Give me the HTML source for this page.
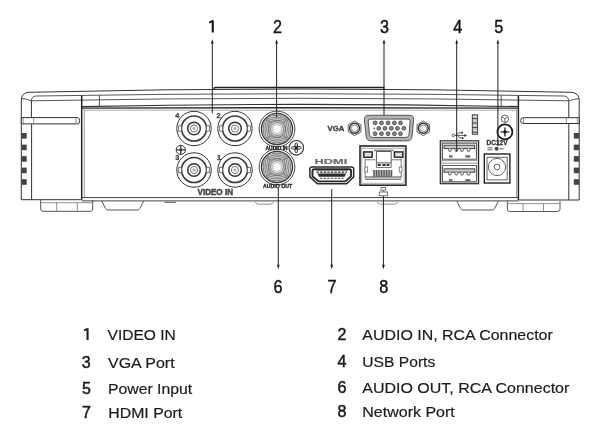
<!DOCTYPE html>
<html><head><meta charset="utf-8">
<style>
html,body{margin:0;padding:0;background:#fff;}
body{width:600px;height:431px;overflow:hidden;position:relative;font-family:"Liberation Sans",sans-serif;}
svg{position:absolute;left:0;top:0;will-change:transform;}
.num{font-family:"Liberation Sans",sans-serif;font-size:18px;fill:#151515;stroke:#151515;stroke-width:0.45px;}
.lst{font-family:"Liberation Sans",sans-serif;font-size:15px;fill:#1c1c1c;stroke:#1c1c1c;stroke-width:0.2px;}
.sm{font-family:"Liberation Sans",sans-serif;font-weight:bold;fill:#555;}
</style></head>
<body>
<svg width="600" height="431" viewBox="0 0 600 431">
<defs>
  <g id="bnc">
    <circle r="17.2" fill="none" stroke="#333" stroke-width="1"/>
    <circle r="12.5" fill="none" stroke="#3a3a3a" stroke-width="1.6"/>
    <rect x="-15.3" y="-2.7" width="2.9" height="5.4" fill="#fff" stroke="#555" stroke-width="0.8"/>
    <rect x="12.4" y="-2.7" width="2.9" height="5.4" fill="#fff" stroke="#555" stroke-width="0.8"/>
    <circle r="6.3" fill="none" stroke="#333" stroke-width="1.5"/>
    <circle r="3.6" fill="none" stroke="#666" stroke-width="0.9"/>
    <circle r="1.5" fill="#aaa"/>
  </g>
  <clipPath id="rcaclip"><circle r="15"/></clipPath>
  <g id="rca">
    <circle r="17.9" fill="#fff" stroke="#333" stroke-width="0.9"/>
    <circle r="15.6" fill="#c2c2c2" stroke="#3a3a3a" stroke-width="1.2"/>
    <g clip-path="url(#rcaclip)" fill="none" stroke="#6a6a6a" stroke-width="0.75">
      <circle cy="-25" r="12"/><circle cy="-25" r="14.3"/><circle cy="-25" r="16.6"/><circle cy="-25" r="18.9"/>
      <circle cy="25" r="12"/><circle cy="25" r="14.3"/><circle cy="25" r="16.6"/><circle cy="25" r="18.9"/>
      <circle cx="-25" r="12"/><circle cx="-25" r="14.3"/><circle cx="-25" r="16.6"/><circle cx="-25" r="18.9"/>
      <circle cx="25" r="12"/><circle cx="25" r="14.3"/><circle cx="25" r="16.6"/><circle cx="25" r="18.9"/>
    </g>
    <circle r="8.3" fill="#cfcfcf" stroke="#606060" stroke-width="0.75"/>
    <circle r="6.4" fill="#e4e4e4" stroke="#666" stroke-width="0.75"/>
    <circle r="4.3" fill="#fff" stroke="#888" stroke-width="0.5"/>
  </g>
  <g id="gnd">
    <circle r="4.6" fill="#fff" stroke="#333" stroke-width="1"/>
    <path d="M0 -4.6V4.6M-4.6 0H4.6" stroke="#333" stroke-width="1.2"/>
    <circle r="1.3" fill="#333"/>
  </g>
  <g id="nut">
    <polygon points="0,-7.3 6.3,-3.65 6.3,3.65 0,7.3 -6.3,3.65 -6.3,-3.65" fill="#fff" stroke="#555" stroke-width="0.9"/>
    <circle r="5" fill="#fff" stroke="#333" stroke-width="1.5"/>
    <circle r="3.3" fill="#fff" stroke="#888" stroke-width="0.9"/>
  </g>
</defs>

<!-- ===== top labels ===== -->
<g class="num" text-anchor="middle">
    <text x="277.6" y="32.5" textLength="9" lengthAdjust="spacingAndGlyphs">2</text>
  <text x="384.6" y="32.7" textLength="9" lengthAdjust="spacingAndGlyphs">3</text>
  <text x="457.7" y="32.7" textLength="9" lengthAdjust="spacingAndGlyphs">4</text>
  <text x="498.7" y="32.7" textLength="9" lengthAdjust="spacingAndGlyphs">5</text>
  <text x="277.9" y="292.7" textLength="9" lengthAdjust="spacingAndGlyphs">6</text>
  <text x="331.9" y="292.7" textLength="9" lengthAdjust="spacingAndGlyphs">7</text>
  <text x="383.8" y="292.7" textLength="9" lengthAdjust="spacingAndGlyphs">8</text>
</g>

<!-- ===== device body ===== -->
<g fill="none" stroke="#333" stroke-width="1">
  <!-- outer silhouette top -->
  <path d="M21.3 200V100.5Q21.3 93 28.5 92.3Q300 85.7 571.5 92.3Q579.2 93 579.2 100.5V200"/>
  <path d="M213.6 89.4Q213.8 87.5 215.5 87.5H383.8V89.4" stroke="#222" stroke-width="1.3"/>
  <!-- second top line -->
  <path d="M21.3 98.3Q27 99 31.3 100.8Q31.6 96.2 36 96Q300 91.5 564 96Q568.4 96.2 568.7 100.8Q573 99.2 579.2 98.6" stroke="#444" stroke-width="0.9"/>
  <!-- third line -->
  <path d="M31.3 100.8Q300 95.8 568.7 100.8" stroke="#444" stroke-width="0.9"/>
  <!-- panel top -->
  <path d="M81.7 106.6Q300 102.1 518.3 106.6" stroke="#333" stroke-width="1.1"/>
  <path d="M81.7 108.1Q300 107.4 518.3 108.1" stroke="#2a2a2a" stroke-width="1.4"/>
  <path d="M84.3 110.2H516.5" stroke="#999" stroke-width="0.8"/>
  <!-- short verticals -->
  <path d="M99.4 95.2V107M501.2 95.3V107" stroke="#444" stroke-width="0.9"/>
  <!-- panel sides -->
  <path d="M81.7 95.5V199.7" stroke="#222" stroke-width="1.5"/>
  <path d="M84.3 108V197.6" stroke="#888" stroke-width="0.8"/>
  <path d="M518.4 95.8V200" stroke="#222" stroke-width="1.5"/>
  <path d="M516.5 108V197.6" stroke="#888" stroke-width="0.8"/>
  <!-- panel bottom -->
  <path d="M81.8 197.6H518.6" stroke="#444" stroke-width="1"/>
  <path d="M81.8 200.9H518.6" stroke="#444" stroke-width="1"/>
  <!-- left section -->
  <path d="M31.4 100.5V117.6M31.6 123.9V199.7"/>
  <path d="M21.3 199.7H81.8"/>
  <path d="M21.3 117.6H77.5Q79.6 117.6 79.6 120.7Q79.6 123.9 77.5 123.9H21.3Z" fill="#fff"/>
  <path d="M23.2 117.8V123.7M33.7 117.8V123.7M76 117.8V123.7" stroke="#666" stroke-width="0.7"/>
  <!-- right section -->
  <path d="M568.8 101V117.7M568.8 123.5V200"/>
  <path d="M518.6 200H579.2"/>
  <path d="M579.2 117.7H523.3Q520.6 117.7 520.6 120.6Q520.6 123.5 523.3 123.5H579.2Z" fill="#fff"/>
  <path d="M523.5 117.9V123.3M566.4 117.9V123.3M577.3 117.9V123.3" stroke="#666" stroke-width="0.7"/>
</g>
<!-- vents -->
<g fill="#444">
  <rect x="21.3" y="133" width="5.4" height="5.6"/>
  <rect x="21.3" y="144.6" width="5.4" height="5.6"/>
  <rect x="21.3" y="156.1" width="5.4" height="5.6"/>
  <rect x="21.3" y="167.6" width="5.4" height="5.6"/>
  <rect x="21.3" y="179.2" width="5.4" height="5.6"/>
  <rect x="573.8" y="133" width="5.4" height="5.6"/>
  <rect x="573.8" y="144.6" width="5.4" height="5.6"/>
  <rect x="573.8" y="156.1" width="5.4" height="5.6"/>
  <rect x="573.8" y="167.6" width="5.4" height="5.6"/>
  <rect x="573.8" y="179.2" width="5.4" height="5.6"/>
</g>
<!-- feet -->
<g fill="none" stroke="#444" stroke-width="0.9">
  <path d="M40.7 200V209Q40.7 211.3 43 211.3H90.4Q92.7 211.3 92.7 209V200"/>
  <path d="M41 202.7H92.5M56.7 202.7V211.3M77.3 202.7V211.3" stroke="#666" stroke-width="0.7"/>
  <path d="M101.7 201L105.6 208.6Q106.3 210 108 210H137.4Q139.1 210 139.8 208.6L143.7 201"/>
  <path d="M456.8 201L460.6 208.6Q461.3 210 463 210H492.2Q493.9 210 494.6 208.6L498.4 201"/>
  <path d="M507.4 201V209.2Q507.4 211.5 509.7 211.5H557.7Q560 211.5 560 209.2V201"/>
  <path d="M507.6 203.6H559.8M523 203.6V211.5M543.5 203.6V211.5" stroke="#666" stroke-width="0.7"/>
  <path d="M255 201.6Q256 204.2 259 204.2H270Q273 204.2 274 201.6" stroke="#888"/>
  <path d="M164.5 202.3H176" stroke="#555" stroke-width="1"/>
  <path d="M377 201.6Q378 204.2 381 204.2H394Q397 204.2 398 201.6" stroke="#888"/>
</g>

<!-- ===== BNC ===== -->
<use href="#bnc" x="194" y="128.5"/>
<use href="#bnc" x="235" y="128.5"/>
<use href="#bnc" x="194" y="170"/>
<use href="#bnc" x="235" y="170"/>
<g class="sm" font-size="7.4" style="fill:#3a3a3a;stroke:#3a3a3a;stroke-width:0.25px">
  <text x="175.2" y="118">4</text>
  <text x="216.5" y="118.3">2</text>
  <text x="175.2" y="160">3</text>
  <text x="217" y="160">1</text>
</g>
<use href="#gnd" x="180.8" y="149.9"/>
<text class="sm" x="197.5" y="194.8" font-size="8.4" textLength="35.5" lengthAdjust="spacingAndGlyphs" style="fill:#444;stroke:#444;stroke-width:0.45px">VIDEO IN</text>

<!-- ===== RCA ===== -->
<use href="#rca" x="277" y="129"/>
<use href="#rca" x="277" y="167"/>
<text class="sm" x="265.6" y="149.7" font-size="5.2" textLength="22" lengthAdjust="spacingAndGlyphs" style="fill:#222;stroke:#222;stroke-width:0.3px">AUDIO IN</text>
<text class="sm" x="263.1" y="188" font-size="5.2" textLength="29" lengthAdjust="spacingAndGlyphs" style="fill:#222;stroke:#222;stroke-width:0.3px">AUDIO OUT</text>
<g transform="translate(296.3 147.8)">
  <circle r="7.3" fill="#fff" stroke="#333" stroke-width="1.1"/>
  <ellipse rx="1.5" ry="5.2" fill="#ddd" stroke="#333" stroke-width="0.9"/>
  <ellipse rx="5.2" ry="1.5" fill="#ddd" stroke="#333" stroke-width="0.9"/>
  <circle r="1.6" fill="#222"/>
</g>

<!-- ===== VGA ===== -->
<text class="sm" x="327.6" y="131.3" font-size="6.6" textLength="16.7" lengthAdjust="spacingAndGlyphs" style="fill:#444;stroke:#444;stroke-width:0.35px">VGA</text>
<use href="#nut" x="354.6" y="128.3"/>
<use href="#nut" x="423.3" y="128.3"/>
<path d="M368.8 115.3H409.6Q414 115.3 413.6 119.6L412 136.6Q411.6 140.8 407.4 140.8H370.8Q366.6 140.8 366.2 136.6L364.4 119.6Q364 115.3 368.8 115.3Z" fill="#b4b4b4" stroke="#555" stroke-width="1"/>
<path d="M370.4 119.1H408Q410.4 119.1 410.1 121.6L409 134.9Q408.7 137.4 406.2 137.4H372.3Q369.8 137.4 369.5 134.9L368.2 121.6Q367.9 119.1 370.4 119.1Z" fill="#fff" stroke="#444" stroke-width="0.9"/>
<g fill="#888" stroke="#3a3a3a" stroke-width="0.8">
  <circle cx="375.1" cy="122.9" r="1.9"/><circle cx="381.5" cy="122.9" r="1.9"/><circle cx="388.1" cy="122.9" r="1.9"/><circle cx="394.4" cy="122.9" r="1.9"/><circle cx="400.5" cy="122.9" r="1.9"/>
  <circle cx="378.8" cy="128.3" r="1.9"/><circle cx="385" cy="128.3" r="1.9"/><circle cx="391.3" cy="128.3" r="1.9"/><circle cx="397.5" cy="128.3" r="1.9"/><circle cx="403.8" cy="128.3" r="1.9"/>
  <circle cx="375.1" cy="133.7" r="1.9"/><circle cx="381.5" cy="133.7" r="1.9"/><circle cx="388.1" cy="133.7" r="1.9"/><circle cx="394.4" cy="133.7" r="1.9"/><circle cx="400.5" cy="133.7" r="1.9"/>
</g>
<circle cx="374.2" cy="128.2" r="0.8" fill="#333"/>

<!-- ===== HDMI ===== -->
<text x="314.6" y="163.9" font-family="Liberation Sans" font-weight="bold" font-size="8.1" fill="#6e6e6e" stroke="#6e6e6e" stroke-width="0.2" textLength="32.6" lengthAdjust="spacingAndGlyphs">HDMI</text>
<path d="M312 166.9H351.6Q353.7 166.9 353.7 169V176.9L346.7 183.8H317.3L309.9 176.9V169Q309.9 166.9 312 166.9Z" fill="#fff" stroke="#2a2a2a" stroke-width="1.5"/>
<path d="M314.2 169.3H349.4Q351.1 169.3 351.1 171V176.2L345.5 181.4H318.5L312.5 176.2V171Q312.5 169.3 314.2 169.3Z" fill="#fff" stroke="#2a2a2a" stroke-width="1.9"/>
<path d="M316 170.6H348" stroke="#777" stroke-width="1"/>
<path d="M316.5 172.3H347" stroke="#555" stroke-width="1.4" stroke-dasharray="2.4 1.2"/>
<path d="M317.5 173.5H346.1L344.6 176.7H319Z" fill="#2a2a2a"/>
<path d="M320 178.4H343.6" stroke="#666" stroke-width="1.4" stroke-dasharray="2.4 1.2"/>

<!-- ===== RJ45 ===== -->
<rect x="360" y="146" width="45.9" height="39.2" fill="#fff" stroke="#2a2a2a" stroke-width="1.6"/>
<rect x="361.8" y="148.2" width="42.3" height="35" fill="none" stroke="#888" stroke-width="0.7"/>
<rect x="363.8" y="151.9" width="8.4" height="5.3" fill="#d0d0d0" stroke="#222" stroke-width="1.4"/>
<rect x="394.4" y="151.9" width="8.4" height="5.3" fill="#d0d0d0" stroke="#222" stroke-width="1.4"/>
<path d="M365.3 153.2L370.7 155.9M365.3 155.9L370.7 153.2M395.9 153.2L401.3 155.9M395.9 155.9L401.3 153.2" stroke="#fff" stroke-width="0.7"/>
<path d="M374.6 151.2V150.2H393V151.2M376.4 151.5H391.2V162.9H376.4Z" fill="#fff" stroke="#444" stroke-width="0.9"/>
<path d="M376.4 162.9V167.5H391.2V162.9" fill="none" stroke="#555" stroke-width="0.8"/>
<g fill="#333"><rect x="377.6" y="164" width="3.2" height="2"/><rect x="382.4" y="164" width="3.2" height="2"/><rect x="386.6" y="164" width="2.8" height="2"/></g>
<path d="M365.7 159.8H375.3M391.5 159.8H401M365.1 158.4V177.8M401.2 158.4V177.8" fill="none" stroke="#555" stroke-width="0.8"/>
<rect x="364.9" y="167" width="2.8" height="5" fill="#fff" stroke="#555" stroke-width="0.7"/>
<rect x="399.2" y="167" width="2.8" height="5" fill="#fff" stroke="#555" stroke-width="0.7"/>
<rect x="372.8" y="170" width="19.4" height="6.7" fill="#bbb"/>
<g fill="#555">
  <rect x="373.4" y="170" width="1.3" height="6.7"/><rect x="375.9" y="170" width="1.3" height="6.7"/><rect x="378.4" y="170" width="1.3" height="6.7"/><rect x="380.9" y="170" width="1.3" height="6.7"/><rect x="383.4" y="170" width="1.3" height="6.7"/><rect x="385.9" y="170" width="1.3" height="6.7"/><rect x="388.4" y="170" width="1.3" height="6.7"/><rect x="390.9" y="170" width="1.3" height="6.7"/>
</g>
<path d="M365.1 177H401.2M365.1 179.2H401.2" stroke="#333" stroke-width="0.9"/>
<g fill="none" stroke="#555" stroke-width="0.8">
  <rect x="381" y="187.6" width="4.6" height="2.6"/>
  <path d="M383.3 190.2V192"/>
  <rect x="379.2" y="192" width="8.4" height="3.8"/>
</g>

<!-- ===== USB ===== -->
<g fill="none" stroke="#333" stroke-width="0.8">
  <path d="M454.5 135.4H465"/>
  <path d="M456 135.4Q457.5 132.7 460 132.7H461.5M457.5 135.4Q459 138 461 138H462"/>
</g>
<polygon points="467,135.4 464.4,133.9 464.4,136.9" fill="#333"/>
<circle cx="453.3" cy="135.4" r="1.2" fill="#fff" stroke="#333" stroke-width="0.8"/>
<rect x="461.2" y="131.8" width="1.8" height="1.8" fill="#333"/>
<circle cx="462.6" cy="138" r="1" fill="#333"/>
<rect x="472.3" y="114.8" width="5.3" height="19.4" fill="#cfcfcf" stroke="#333" stroke-width="0.9"/>
<path d="M472.3 118.6H477.6M472.3 123H477.6M472.3 127.6H477.6M472.3 132.2H477.6" stroke="#333" stroke-width="0.9"/>
<rect x="440.3" y="140.8" width="38.3" height="42.9" fill="#fff" stroke="#2a2a2a" stroke-width="1.2"/>
<rect x="441.8" y="142.2" width="35.3" height="40.1" fill="none" stroke="#999" stroke-width="0.6"/>
<rect x="442.6" y="143.2" width="33.8" height="16" fill="#fff" stroke="#444" stroke-width="0.9"/>
<rect x="444.1" y="145.2" width="30.6" height="3.4" fill="#c8c8c8" stroke="#333" stroke-width="0.9"/>
<path d="M448.5 148.6V150.2A1.4 1.4 0 0 0 451.3 150.2V148.6M455 148.6V150.2A1.4 1.4 0 0 0 457.8 150.2V148.6M460.6 148.6V150.2A1.4 1.4 0 0 0 463.4 150.2V148.6M467.2 148.6V150.2A1.4 1.4 0 0 0 470 150.2V148.6" fill="#ddd" stroke="#444" stroke-width="0.7"/>
<rect x="449" y="155.3" width="3.5" height="2.2" fill="#666"/>
<rect x="465.3" y="155.3" width="5" height="2.2" fill="#666"/>
<path d="M441.8 160.6H477.1M441.8 163.2H477.1" stroke="#777" stroke-width="0.8"/>
<rect x="442.6" y="165.6" width="33.8" height="16.2" fill="#fff" stroke="#444" stroke-width="0.9"/>
<rect x="444.1" y="168.8" width="30.6" height="3.4" fill="#c8c8c8" stroke="#333" stroke-width="0.9"/>
<path d="M448.5 172.2V173.8A1.4 1.4 0 0 0 451.3 173.8V172.2M455 172.2V173.8A1.4 1.4 0 0 0 457.8 173.8V172.2M460.6 172.2V173.8A1.4 1.4 0 0 0 463.4 173.8V172.2M467.2 172.2V173.8A1.4 1.4 0 0 0 470 173.8V172.2" fill="#ddd" stroke="#444" stroke-width="0.7"/>
<rect x="449" y="179.2" width="3.5" height="2.2" fill="#666"/>
<rect x="465.3" y="179.2" width="5" height="2.2" fill="#666"/>

<!-- ===== Power ===== -->
<g transform="translate(504.9 118.8)">
  <circle r="3.7" fill="#fff" stroke="#555" stroke-width="0.9"/>
  <path d="M0 0V3.5M0 0L-2.8 -2M0 0L2.8 -2" stroke="#555" stroke-width="0.9" fill="none"/>
</g>
<circle cx="504.9" cy="131.9" r="7.5" fill="#fff" stroke="#1a1a1a" stroke-width="1.7"/>
<path d="M504.9 127.4V136.4M500.4 131.9H509.4" stroke="#333" stroke-width="1.4"/>
<circle cx="504.9" cy="131.9" r="1.6" fill="#111"/>
<text class="sm" x="486.6" y="145.2" font-size="6.8" textLength="21" lengthAdjust="spacingAndGlyphs" style="fill:#333;stroke:#333;stroke-width:0.3px">DC12V</text>
<path d="M487.5 147.8H492.5M487.5 149.8H492.5" stroke="#444" stroke-width="0.9"/>
<circle cx="496.6" cy="148.8" r="2" fill="#444"/>
<path d="M499.5 148.8H503.5" stroke="#444" stroke-width="0.9"/>
<rect x="484.3" y="154" width="25.6" height="29" fill="#fff" stroke="#222" stroke-width="1.4"/>
<rect x="487" y="157.3" width="20.2" height="22.6" fill="none" stroke="#555" stroke-width="0.9"/>
<circle cx="497" cy="167" r="8.6" fill="#fff" stroke="#555" stroke-width="0.9"/>
<circle cx="497" cy="167" r="2.9" fill="#fff" stroke="#555" stroke-width="0.9"/>

<!-- ===== arrows ===== -->
<g stroke="#222" stroke-width="1" fill="none">
  <path d="M212.3 42V113.3"/>
  <path d="M276.6 42V117.5"/>
  <path d="M384 42V115.5"/>
  <path d="M456.7 42V151.6"/>
  <path d="M497.9 42V146"/>
  <path d="M278.3 188V266"/>
  <path d="M331.7 189V266"/>
  <path d="M383.4 196V266"/>
</g>
<g fill="#222">
  <polygon points="212.3,39.2 210.9,43.4 213.7,43.4"/>
  <polygon points="276.6,39.2 275.2,43.4 278,43.4"/>
  <polygon points="384,39.2 382.6,43.4 385.4,43.4"/>
  <polygon points="456.7,39.2 455.3,43.4 458.1,43.4"/>
  <polygon points="497.9,39.2 496.5,43.4 499.3,43.4"/>
  <polygon points="278.3,269.2 276.9,264.8 279.7,264.8"/>
  <polygon points="331.7,269.2 330.3,264.8 333.1,264.8"/>
  <polygon points="383.4,269.2 382,264.8 384.8,264.8"/>
</g>

<path d="M211.6 20.2H213.8V32.4H211.7V22.4L209.3 23.5L209 21.7Z" fill="#151515"/>
<path d="M86.4 328.2H88.6V340.1H86.5V330.3L84.2 331.2L83.9 329.4Z" fill="#1c1c1c"/>
<!-- ===== legend ===== -->
<g class="lst">
  <text x="107.5" y="340" textLength="68.3" lengthAdjust="spacingAndGlyphs">VIDEO IN</text>
  <text x="81.8" y="368" font-size="16" style="stroke-width:0.5px">3</text><text x="108" y="368" textLength="66.6" lengthAdjust="spacingAndGlyphs">VGA Port</text>
  <text x="82" y="394" font-size="16" style="stroke-width:0.5px">5</text><text x="108" y="394" textLength="84.2" lengthAdjust="spacingAndGlyphs">Power Input</text>
  <text x="82" y="418" font-size="16" style="stroke-width:0.5px">7</text><text x="108.3" y="418" textLength="73.9" lengthAdjust="spacingAndGlyphs">HDMI Port</text>
  <text x="337.5" y="339.8" font-size="16" style="stroke-width:0.5px">2</text><text x="362.3" y="339.8" textLength="190.5" lengthAdjust="spacingAndGlyphs">AUDIO IN, RCA Connector</text>
  <text x="337.5" y="367" font-size="16" style="stroke-width:0.5px">4</text><text x="362.3" y="367" textLength="73" lengthAdjust="spacingAndGlyphs">USB Ports</text>
  <text x="337.5" y="392.7" font-size="16" style="stroke-width:0.5px">6</text><text x="362.3" y="392.7" textLength="207" lengthAdjust="spacingAndGlyphs">AUDIO OUT, RCA Connector</text>
  <text x="337.5" y="417.4" font-size="16" style="stroke-width:0.5px">8</text><text x="362.3" y="417.4" textLength="92.5" lengthAdjust="spacingAndGlyphs">Network Port</text>
</g>
</svg>
</body></html>
